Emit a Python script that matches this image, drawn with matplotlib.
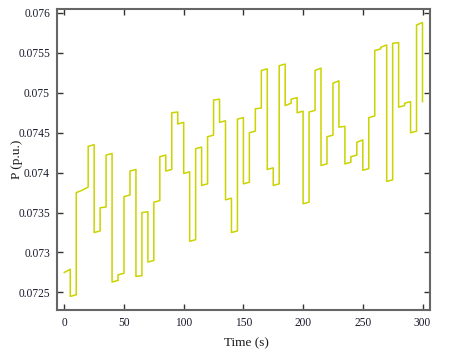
import numpy as np
import matplotlib
matplotlib.use("Agg")
import matplotlib.pyplot as plt
from matplotlib.ticker import FuncFormatter

# segment start times (s), 5 s each
seg_t = list(range(0, 300, 5))

# value at start and end of each segment (p.u.)
seg_start = [0.07275, 0.07245, 0.07375, 0.07378, 0.07433, 0.07325, 0.07356, 0.07422,
             0.07263, 0.07272, 0.07370, 0.07402, 0.07270, 0.07350, 0.07288, 0.07363,
             0.07420, 0.07402, 0.07475, 0.07461, 0.07399, 0.07314, 0.07430, 0.07384,
             0.07445, 0.07491, 0.07463, 0.07366, 0.07325, 0.07467, 0.07386, 0.07450,
             0.07480, 0.07528, 0.07404, 0.07384, 0.07534, 0.07484, 0.07492, 0.07475,
             0.07361, 0.07476, 0.07528, 0.07409, 0.07445, 0.07512, 0.07457, 0.07411,
             0.07420, 0.07438, 0.07403, 0.07469, 0.07553, 0.07557, 0.07389, 0.07562,
             0.07482, 0.07487, 0.07450, 0.07585]
seg_end = [0.07279, 0.07247, 0.07378, 0.07382, 0.07435, 0.07327, 0.07357, 0.07424,
           0.07265, 0.07274, 0.07372, 0.07404, 0.07271, 0.07351, 0.07290, 0.07365,
           0.07422, 0.07404, 0.07476, 0.07463, 0.07401, 0.07316, 0.07432, 0.07386,
           0.07447, 0.07492, 0.07465, 0.07368, 0.07327, 0.07469, 0.07388, 0.07452,
           0.07481, 0.07530, 0.07406, 0.07386, 0.07536, 0.07487, 0.07494, 0.07477,
           0.07363, 0.07478, 0.07531, 0.07411, 0.07447, 0.07515, 0.07458, 0.07413,
           0.07422, 0.07441, 0.07405, 0.07471, 0.07555, 0.07560, 0.07391, 0.07563,
           0.07484, 0.07489, 0.07452, 0.07588]
final_value = 0.07489

x_ticks = [0, 50, 100, 150, 200, 250, 300]
y_ticks = [0.0725, 0.073, 0.0735, 0.074, 0.0745, 0.075, 0.0755, 0.076]

plt.rcParams['font.family'] = ['Liberation Serif', 'DejaVu Serif']

xs = []
ys = []
for t, a, b in zip(seg_t, seg_start, seg_end):
    xs += [t, t + 5]
    ys += [a, b]
xs.append(seg_t[-1] + 5)
ys.append(final_value)

fig = plt.figure(figsize=(4.49, 3.6), dpi=100)
ax = fig.add_axes([0.127, 0.139, 0.831, 0.836])
ax.plot(xs, ys, color='#cbd300', linewidth=1.1)

ax.set_xlim(-6.1, 306.4)
ax.set_ylim(0.07228, 0.07605)
ax.set_xticks(x_ticks)
ax.set_yticks(y_ticks)
ax.yaxis.set_major_formatter(FuncFormatter(lambda v, p: '%g' % v))
ax.tick_params(direction='in', length=4, width=1, colors='#333333',
               labelcolor='#1a1a2e', labelsize=8.3, top=True, right=True, pad=5)
for s in ax.spines.values():
    s.set_color('#666666')
    s.set_linewidth(1.5)

ax.set_xlabel('Time (s)', fontsize=9.5, color='#1a1a1a')
ax.set_ylabel('P (p.u.)', fontsize=9.5, color='#1a1a1a')
ax.xaxis.set_label_coords(0.507, -0.09)
ax.yaxis.set_label_coords(-0.09, 0.5)

fig.savefig('out.png', dpi=100)
